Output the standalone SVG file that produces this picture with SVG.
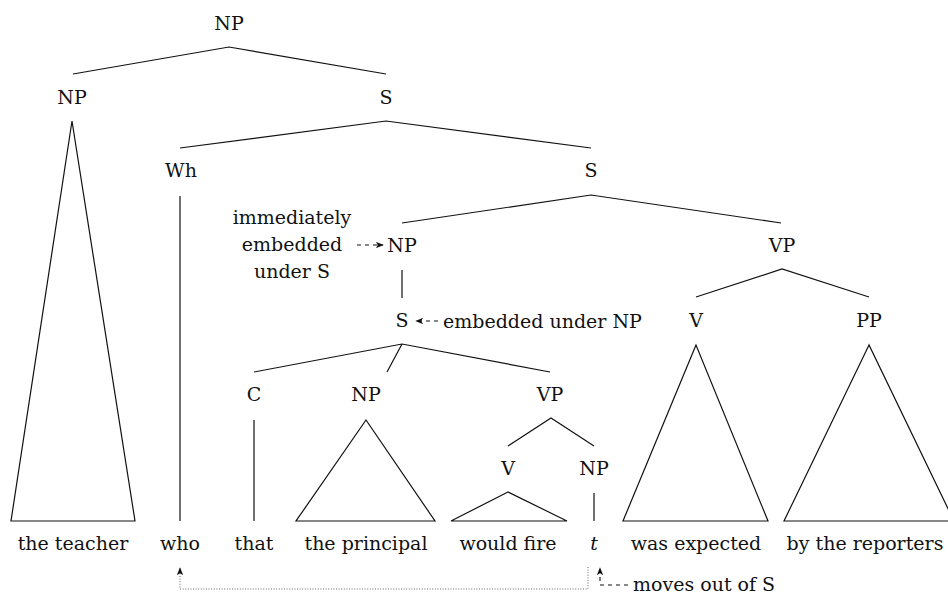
<svg xmlns="http://www.w3.org/2000/svg" width="948" height="598" viewBox="0 0 948 598">
<defs>
<style>
.lab{text-anchor:middle}
.e{stroke:#111;stroke-width:1.2;fill:none}
.tri{stroke:#111;stroke-width:1.2;fill:none;stroke-linejoin:miter}
.dot{stroke:#666;stroke-width:1;fill:none;stroke-dasharray:1 1.6}
.dash{stroke:#111;stroke-width:1.1;fill:none;stroke-dasharray:4 4}
</style>
<marker id="ah" viewBox="0 0 10 8" refX="9" refY="4" markerWidth="8" markerHeight="6.4" markerUnits="userSpaceOnUse" orient="auto">
<path d="M0,0 L10,4 L0,8 L2.5,4 z" fill="#111"/>
</marker>
</defs>
<rect width="948" height="598" fill="#fff"/>
<g id="connectors">
<path class="e" d="M73,74 L229,47 L386,74"/>
<path class="tri" d="M72,121 L11,521 L135,521 Z"/>
<path class="e" d="M180,148 L386,121 L591,148"/>
<path class="e" d="M180,196 L180,521"/>
<path class="e" d="M402,223 L591,195 L781,223"/>
<path class="e" d="M402,270 L402,298"/>
<path class="e" d="M696,297 L782,269 L869,297"/>
<path class="tri" d="M696,345 L623,521 L768,521 Z"/>
<path class="tri" d="M869,345 L784,521 L954,521 Z"/>
<path class="e" d="M254,372 L402,344 L550,372 M402,344 L387,372"/>
<path class="e" d="M254,420 L254,521"/>
<path class="tri" d="M366,420 L296,521 L435,521 Z"/>
<path class="e" d="M508,446 L551,418 L594,446"/>
<path class="tri" d="M508,492 L451,521 L567,521 Z"/>
<path class="e" d="M594,493 L594,521"/>
<path class="dot" d="M588,567 L588,589 L180,589 L180,568" marker-end="url(#ah)"/>
<path class="dash" d="M628,585 L600,585 L600,568" marker-end="url(#ah)"/>
<path class="dash" d="M357,245 L383,245" marker-end="url(#ah)"/>
<path class="dash" d="M438,321 L416,321" marker-end="url(#ah)"/>
</g>
<g font-family="'DejaVu Serif', 'Liberation Serif', serif" font-size="19" fill="#111">
<g id="n-np-root"><text class="lab" x="229" y="30">NP</text></g>
<g id="n-np-1"><text class="lab" x="72" y="104">NP</text></g>
<g id="n-s-1"><text class="lab" x="386" y="104">S</text></g>
<g id="n-wh"><text class="lab" x="181" y="177">Wh</text></g>
<g id="n-s-2"><text class="lab" x="591" y="177">S</text></g>
<g id="n-np-2"><text class="lab" x="402" y="252">NP</text></g>
<g id="n-vp-1"><text class="lab" x="782" y="252">VP</text></g>
<g id="n-s-3"><text class="lab" x="402" y="327">S</text></g>
<g id="n-v-1"><text class="lab" x="696" y="327">V</text></g>
<g id="n-pp"><text class="lab" x="869" y="327">PP</text></g>
<g id="n-c"><text class="lab" x="254" y="401">C</text></g>
<g id="n-np-3"><text class="lab" x="366" y="401">NP</text></g>
<g id="n-vp-2"><text class="lab" x="550" y="401">VP</text></g>
<g id="n-v-2"><text class="lab" x="508" y="475">V</text></g>
<g id="n-np-4"><text class="lab" x="594" y="475">NP</text></g>
<g id="w-teacher"><text class="lab" x="73" y="550">the teacher</text></g>
<g id="w-who"><text class="lab" x="180" y="550">who</text></g>
<g id="w-that"><text class="lab" x="254" y="550">that</text></g>
<g id="w-principal"><text class="lab" x="366" y="550">the principal</text></g>
<g id="w-wouldfire"><text class="lab" x="508" y="550">would fire</text></g>
<g id="w-t"><text class="lab" x="594" y="550" font-style="italic">t</text></g>
<g id="w-expected"><text class="lab" x="696" y="550">was expected</text></g>
<g id="w-reporters"><text class="lab" x="865" y="550">by the reporters</text></g>
<g id="a-immediately"><text class="lab" x="292" y="224">immediately</text><text class="lab" x="292" y="251">embedded</text><text class="lab" x="292" y="278">under S</text></g>
<g id="a-embedded"><text x="443" y="328">embedded under NP</text></g>
<g id="a-moves"><text x="633" y="591">moves out of S</text></g>
</g>
</svg>
